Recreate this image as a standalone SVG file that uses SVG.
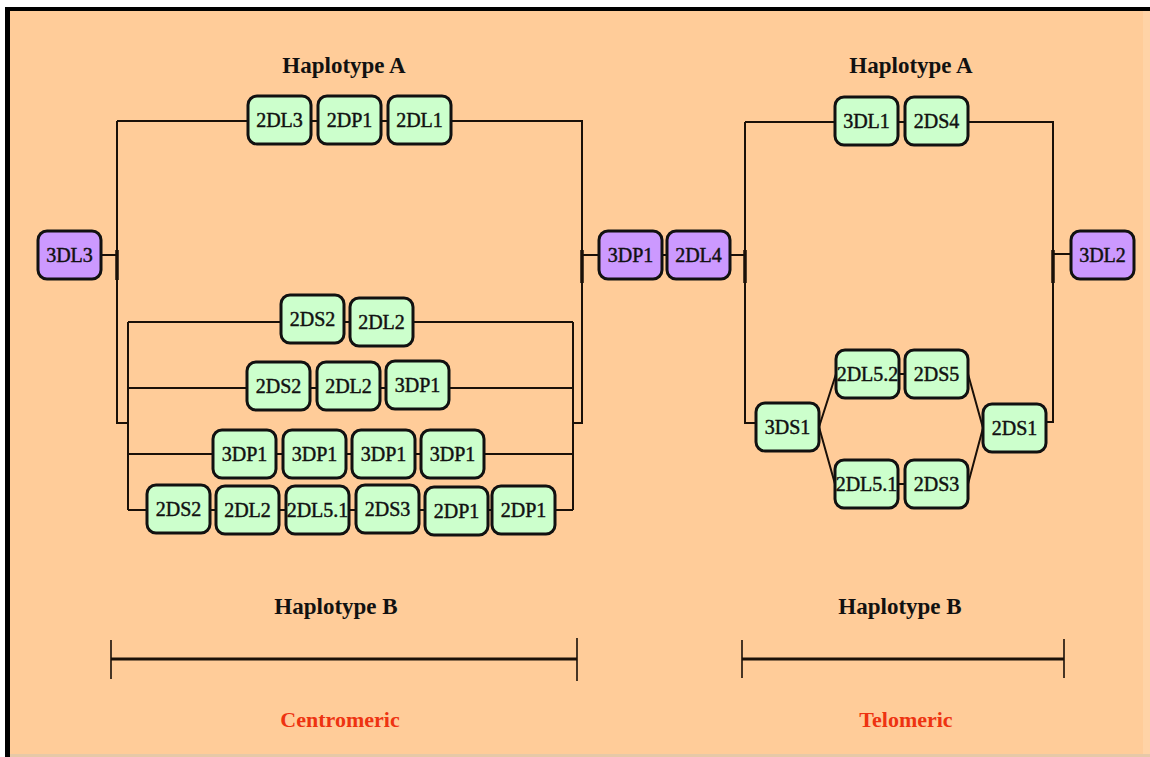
<svg xmlns="http://www.w3.org/2000/svg" width="1150" height="757" viewBox="0 0 1150 757">
  <style>
    .bg { fill: #ffcc99; }
    .wire { fill: none; stroke: #1a1008; stroke-width: 2; }
    .stub { fill: none; stroke: #1a1008; stroke-width: 3.5; }
    .bar { fill: none; stroke: #1a1008; stroke-width: 3; }
    .tick { fill: none; stroke: #1a1008; stroke-width: 1.6; }
    .gene use { stroke: #111; stroke-width: 3; }
    .green use { fill: #ccffcc; }
    .purple use { fill: #cc99ff; }
    .gene text { font-family: "Liberation Serif", "Times New Roman", serif; font-size: 20px; fill: #111; stroke: #111; stroke-width: 0.45; text-anchor: middle; }
    .title { font-family: "Liberation Serif", "Times New Roman", serif; font-size: 23px; font-weight: bold; fill: #111; text-anchor: middle; }
    .region { font-family: "Liberation Serif", "Times New Roman", serif; font-size: 22px; font-weight: bold; fill: #ee3311; text-anchor: middle; }
  </style>
  <defs>
    <rect id="box" x="0" y="0" width="63" height="48" rx="9" ry="9"/>
  </defs>

  <!-- frame and background -->
  <rect x="0" y="0" width="1150" height="757" fill="#ffffff"/>
  <rect x="5" y="7" width="1145" height="750" fill="#000000"/>
  <rect class="bg" x="10" y="11" width="1140" height="743"/>
  <rect x="1143" y="11" width="7" height="743" fill="#ffd3a6"/>
  <rect x="10" y="754" width="1140" height="3" fill="#e6c9a8"/>

  <!-- connectors -->
  <g id="connectors">
    <!-- centromeric: haplotype A branch -->
    <path class="wire" d="M101,255 H117 M117,121 V423 H128 M117,121 H582 V423 H573 M582,255 H599"/>
    <path class="stub" d="M117,250 V280 M582,250 V283"/>
    <!-- centromeric: haplotype B branches -->
    <path class="wire" d="M128,322 V510 M573,322 V510 M128,322 H573 M128,388 H573 M128,454 H573 M128,510 H573"/>
    <!-- middle framework genes -->
    <path class="wire" d="M662,255 H667"/>
    <!-- telomeric -->
    <path class="wire" d="M730,255 H745 M745,122 V423 H756 M745,122 H1053 V422 H1046 M1053,254 H1071"/>
    <path class="stub" d="M745,250 V283 M1053,250 V283"/>
    <path class="wire" d="M819,427 L836,374 M819,427 L835,484 M899,374 H905 M898,484 H905 M968,374 L983,428 M968,484 L983,428"/>
    <!-- scale bars -->
    <path class="bar" d="M111,659 H577 M742,659 H1064"/>
    <path class="tick" d="M111,640 V679 M577,638 V681 M742,640 V678 M1064,639 V678"/>
  </g>

  <!-- framework genes -->
  <g id="n-3DL3" class="gene purple" transform="translate(38,231)"><use href="#box"/><text x="31.5" y="31">3DL3</text></g>
  <g id="n-3DP1-mid" class="gene purple" transform="translate(599,231)"><use href="#box"/><text x="31.5" y="31">3DP1</text></g>
  <g id="n-2DL4" class="gene purple" transform="translate(667,231)"><use href="#box"/><text x="31.5" y="31">2DL4</text></g>
  <g id="n-3DL2" class="gene purple" transform="translate(1071,231)"><use href="#box"/><text x="31.5" y="31">3DL2</text></g>

  <!-- centromeric haplotype A -->
  <g id="n-c-a-2DL3" class="gene green" transform="translate(248,96)"><use href="#box"/><text x="31.5" y="31">2DL3</text></g>
  <g id="n-c-a-2DP1" class="gene green" transform="translate(318,96)"><use href="#box"/><text x="31.5" y="31">2DP1</text></g>
  <g id="n-c-a-2DL1" class="gene green" transform="translate(388,96)"><use href="#box"/><text x="31.5" y="31">2DL1</text></g>

  <!-- centromeric haplotype B, row 1 -->
  <g id="n-c-b1-2DS2" class="gene green" transform="translate(281,295)"><use href="#box"/><text x="31.5" y="31">2DS2</text></g>
  <g id="n-c-b1-2DL2" class="gene green" transform="translate(350,298)"><use href="#box"/><text x="31.5" y="31">2DL2</text></g>
  <!-- row 2 -->
  <g id="n-c-b2-2DS2" class="gene green" transform="translate(247,362)"><use href="#box"/><text x="31.5" y="31">2DS2</text></g>
  <g id="n-c-b2-2DL2" class="gene green" transform="translate(317,362)"><use href="#box"/><text x="31.5" y="31">2DL2</text></g>
  <g id="n-c-b2-3DP1" class="gene green" transform="translate(386,361)"><use href="#box"/><text x="31.5" y="31">3DP1</text></g>
  <!-- row 3 -->
  <g id="n-c-b3-3DP1-a" class="gene green" transform="translate(213,430)"><use href="#box"/><text x="31.5" y="31">3DP1</text></g>
  <g id="n-c-b3-3DP1-b" class="gene green" transform="translate(283,430)"><use href="#box"/><text x="31.5" y="31">3DP1</text></g>
  <g id="n-c-b3-3DP1-c" class="gene green" transform="translate(352,430)"><use href="#box"/><text x="31.5" y="31">3DP1</text></g>
  <g id="n-c-b3-3DP1-d" class="gene green" transform="translate(421,430)"><use href="#box"/><text x="31.5" y="31">3DP1</text></g>
  <!-- row 4 -->
  <g id="n-c-b4-2DS2" class="gene green" transform="translate(147,485)"><use href="#box"/><text x="31.5" y="31">2DS2</text></g>
  <g id="n-c-b4-2DL2" class="gene green" transform="translate(216,486)"><use href="#box"/><text x="31.5" y="31">2DL2</text></g>
  <g id="n-c-b4-2DL5.1" class="gene green" transform="translate(286,486)"><use href="#box"/><text x="31.5" y="31">2DL5.1</text></g>
  <g id="n-c-b4-2DS3" class="gene green" transform="translate(356,485)"><use href="#box"/><text x="31.5" y="31">2DS3</text></g>
  <g id="n-c-b4-2DP1-a" class="gene green" transform="translate(425,487)"><use href="#box"/><text x="31.5" y="31">2DP1</text></g>
  <g id="n-c-b4-2DP1-b" class="gene green" transform="translate(492,486)"><use href="#box"/><text x="31.5" y="31">2DP1</text></g>

  <!-- telomeric haplotype A -->
  <g id="n-t-a-3DL1" class="gene green" transform="translate(835,97)"><use href="#box"/><text x="31.5" y="31">3DL1</text></g>
  <g id="n-t-a-2DS4" class="gene green" transform="translate(905,97)"><use href="#box"/><text x="31.5" y="31">2DS4</text></g>

  <!-- telomeric haplotype B -->
  <g id="n-t-b-3DS1" class="gene green" transform="translate(756,403)"><use href="#box"/><text x="31.5" y="31">3DS1</text></g>
  <g id="n-t-b-2DL5.2" class="gene green" transform="translate(836,350)"><use href="#box"/><text x="31.5" y="31">2DL5.2</text></g>
  <g id="n-t-b-2DS5" class="gene green" transform="translate(905,350)"><use href="#box"/><text x="31.5" y="31">2DS5</text></g>
  <g id="n-t-b-2DL5.1" class="gene green" transform="translate(835,460)"><use href="#box"/><text x="31.5" y="31">2DL5.1</text></g>
  <g id="n-t-b-2DS3" class="gene green" transform="translate(905,460)"><use href="#box"/><text x="31.5" y="31">2DS3</text></g>
  <g id="n-t-b-2DS1" class="gene green" transform="translate(983,404)"><use href="#box"/><text x="31.5" y="31">2DS1</text></g>

  <!-- labels -->
  <g id="labels">
    <text class="title" x="344" y="73">Haplotype A</text>
    <text class="title" x="911" y="73">Haplotype A</text>
    <text class="title" x="336" y="614">Haplotype B</text>
    <text class="title" x="900" y="614">Haplotype B</text>
    <text class="region" x="340" y="727">Centromeric</text>
    <text class="region" x="906" y="727">Telomeric</text>
  </g>
</svg>
